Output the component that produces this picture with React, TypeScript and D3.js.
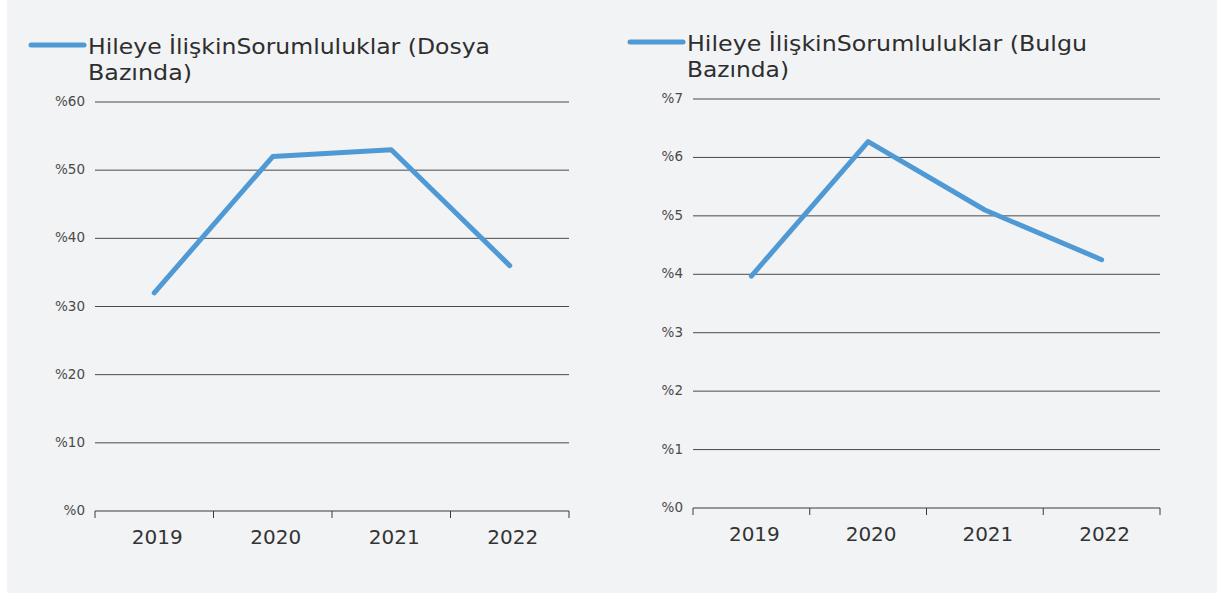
import React from "react";
import * as d3 from "d3";

const years = ["2019", "2020", "2021", "2022"];
const dosyaValues = [32, 52, 53, 36];
const bulguValues = [3.97, 6.27, 5.1, 4.25];
const dosyaTicks = [0, 10, 20, 30, 40, 50, 60];
const bulguTicks = [0, 1, 2, 3, 4, 5, 6, 7];
const dosyaLegend = ["Hileye İlişkinSorumluluklar (Dosya", "Bazında)"];
const bulguLegend = ["Hileye İlişkinSorumluluklar (Bulgu", "Bazında)"];

const FONT = "'DejaVu Sans', 'Open Sans', sans-serif";
const BLUE = "#4f9ad4";

type PanelProps = {
  values: number[];
  ticks: number[];
  legend: string[];
  legendWidths: number[];
  x0: number;
  x1: number;
  yTop: number;
  yBottom: number;
  legendX: number;
  legendY: number;
};

function Panel({ values, ticks, legend, legendWidths, x0, x1, yTop, yBottom, legendX, legendY }: PanelProps) {
  const xScale = d3.scaleBand<string>().domain(years).range([x0, x1]).padding(0);
  const yMax = ticks[ticks.length - 1];
  const yScale = d3.scaleLinear().domain([0, yMax]).range([yBottom, yTop]);
  const line = d3
    .line<number>()
    .x((_, i) => (xScale(years[i]) as number) + xScale.bandwidth() / 2)
    .y((d) => yScale(d));
  const boundaries = years.map((y) => xScale(y) as number).concat([x1]);
  return (
    <g>
      {/* legend */}
      <line x1={legendX} x2={legendX + 53} y1={legendY} y2={legendY} stroke={BLUE} strokeWidth={5} strokeLinecap="round" />
      {legend.map((t, i) => (
        <text
          key={i}
          x={legendX + 57}
          y={legendY + 9 + i * 26}
          fontFamily={FONT}
          fontSize={21}
          fill="#2e2e2e"
          textLength={legendWidths[i]}
          lengthAdjust="spacingAndGlyphs"
        >
          {t}
        </text>
      ))}
      {/* grid */}
      {ticks.map((t) => (
        <g key={t}>
          {t > 0 && (
            <line x1={x0} x2={x1} y1={yScale(t)} y2={yScale(t)} stroke="#4a4a4a" strokeWidth={1} />
          )}
          <text
            x={x0 - 10}
            y={yScale(t)}
            textAnchor="end"
            dominantBaseline="middle"
            fontFamily={FONT}
            fontSize={13.5}
            fill="#4a4a4a"
          >
            {"%" + t}
          </text>
        </g>
      ))}
      {/* x axis */}
      <line x1={x0} x2={x1} y1={yBottom} y2={yBottom} stroke="#3a3a3a" strokeWidth={1} />
      {boundaries.map((bx, i) => (
        <line key={i} x1={bx} x2={bx} y1={yBottom} y2={yBottom + 7} stroke="#3a3a3a" strokeWidth={1} />
      ))}
      {years.map((y) => (
        <text
          key={y}
          x={(xScale(y) as number) + xScale.bandwidth() / 2 + 3}
          y={yBottom + 33}
          textAnchor="middle"
          fontFamily={FONT}
          fontSize={20}
          fill="#333"
        >
          {y}
        </text>
      ))}
      <path d={line(values) || ""} fill="none" stroke={BLUE} strokeWidth={5} strokeLinecap="round" strokeLinejoin="round" />
    </g>
  );
}

export default function App() {
  return (
    <svg
      width={1217}
      height={593}
      style={{ position: "absolute", left: 0, top: 0, display: "block" }}
    >
      <rect x={0} y={0} width={1217} height={593} fill="#ffffff" />
      <rect x={7} y={0} width={1210} height={593} fill="#f2f3f5" />
      <Panel
        values={dosyaValues}
        ticks={dosyaTicks}
        legend={dosyaLegend}
        legendWidths={[402, 104]}
        x0={95}
        x1={569}
        yTop={102}
        yBottom={511}
        legendX={31}
        legendY={45}
      />
      <Panel
        values={bulguValues}
        ticks={bulguTicks}
        legend={bulguLegend}
        legendWidths={[400, 102]}
        x0={693}
        x1={1160}
        yTop={99}
        yBottom={508}
        legendX={630}
        legendY={42}
      />
    </svg>
  );
}
